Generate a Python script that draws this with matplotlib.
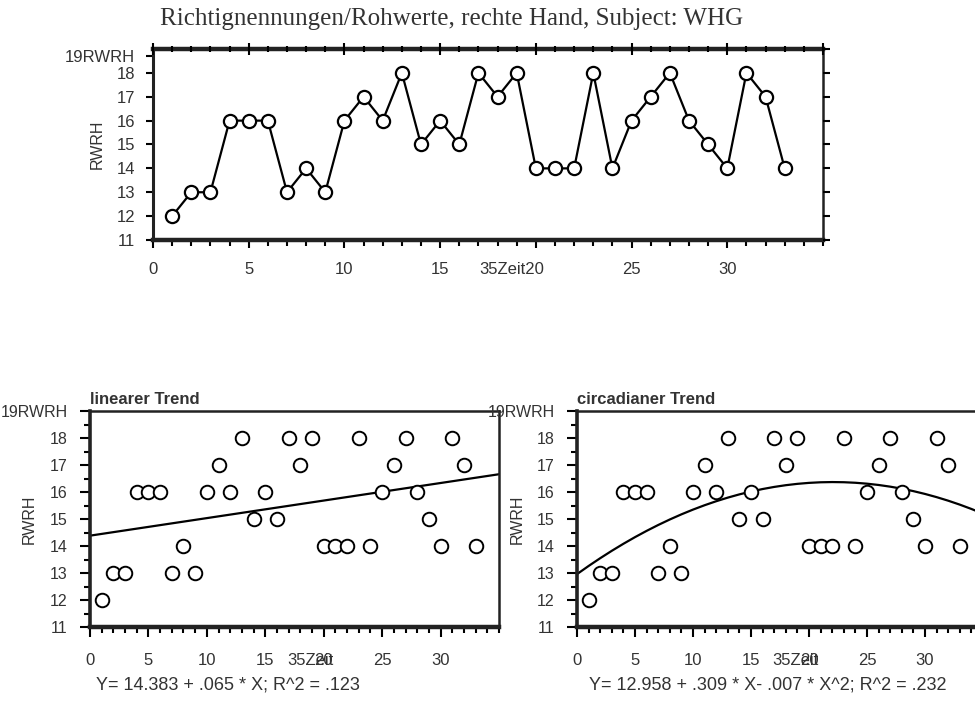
import matplotlib
matplotlib.use('Agg')
from matplotlib import pyplot as plt
from matplotlib.ticker import MultipleLocator
import numpy as np

# Daten (Zeitpunkte und Richtignennungen rechte Hand)
zeit = list(range(1, 34))
rwrh = [12, 13, 13, 16, 16, 16, 13, 14, 13, 16, 17, 16, 18, 15, 16, 15, 18,
        17, 18, 14, 14, 14, 18, 14, 16, 17, 18, 16, 15, 14, 18, 17, 14]

x_ticks = [0, 5, 10, 15, 20, 25, 30]
x_labels_oben = ['0', '5', '10', '15', '', '25', '30']
x_labels_unten = ['0', '5', '10', '15', '20', '25', '30']
y_ticks = [11, 12, 13, 14, 15, 16, 17, 18]
y_labels = ['11', '12', '13', '14', '15', '16', '17', '18']

# Regressionskoeffizienten (aus der Grafik)
lin_coef = [14.383, 0.065]
quad_coef = [12.958, 0.309, -0.007]
fit_x = np.arange(0, 36)

titel = 'Richtignennungen/Rohwerte, rechte Hand, Subject: WHG'
eq_lin = 'Y= 14.383 + .065 * X; R^2 = .123'
eq_quad = 'Y= 12.958 + .309 * X- .007 * X^2; R^2 = .232'

plt.rcParams['font.family'] = ['Liberation Sans', 'DejaVu Sans']
TXT = '#333333'

fig = plt.figure(figsize=(9.75, 7.22), dpi=100)

W, H = 975.0, 722.0


def box(l, r, t, b):
    return [l / W, 1 - b / H, (r - l) / W, (b - t) / H]


# ---------------- oberes Diagramm ----------------
ax = fig.add_axes(box(153, 823, 49, 240))
ax.plot(zeit, rwrh, color='black', lw=1.6, marker='o', ms=9.5,
        mfc='white', mec='black', mew=1.6, zorder=3)
ax.set_xlim(0, 35)
ax.set_ylim(11, 19)
ax.set_xticks(x_ticks)
ax.set_xticklabels(x_labels_oben)
ax.xaxis.set_minor_locator(MultipleLocator(1))
ax.set_yticks(y_ticks + [18.7])
ax.set_yticklabels(y_labels + ['19RWRH'])
ax.tick_params(axis='x', which='major', direction='out', length=6, width=1.5,
               pad=10, labelsize=12, labelcolor=TXT)
ax.tick_params(axis='x', which='minor', direction='out', length=4, width=1.5)
ax.tick_params(axis='y', direction='out', length=5, width=1.5, pad=8,
               labelsize=12, labelcolor=TXT)
ax.spines['left'].set_linewidth(2.2)
ax.spines['bottom'].set_linewidth(3.2)
ax.spines['top'].set_linewidth(3.2)
ax.spines['right'].set_linewidth(1.8)
for s in ax.spines.values():
    s.set_color('#222222')
ax.set_ylabel('RWRH', fontsize=11.5, color=TXT)
ax.yaxis.set_label_coords(-0.072, 0.5)
ax.annotate('35Zeit20', xy=(20, 0), xycoords=('data', 'axes fraction'),
            xytext=(6, -16), textcoords='offset points', ha='right', va='top',
            fontsize=12, color=TXT)

axt = ax.twiny()
axt.set_xlim(0, 35)
axt.xaxis.set_major_locator(MultipleLocator(5))
axt.xaxis.set_minor_locator(MultipleLocator(1))
axt.tick_params(axis='x', which='major', direction='inout', length=9, width=1.5,
                labeltop=False)
axt.tick_params(axis='x', which='minor', direction='inout', length=5, width=1.5)
axr = ax.twinx()
axr.set_ylim(11, 19)
axr.set_yticks(y_ticks + [19])
axr.tick_params(axis='y', direction='out', length=5, width=1.5, labelright=False)
for a in (axt, axr):
    a.spines[:].set_visible(False)

fig.text(452 / W, 1 - 19 / H, titel, ha='center', va='center',
         fontsize=18, family='Liberation Serif', color=TXT)


# ---------------- untere Diagramme ----------------
def unteres_panel(l, r, titel_panel, gleichung, y_fit, eq_x, lbl_x):
    a = fig.add_axes(box(l, r, 411, 627))
    a.scatter(zeit, rwrh, s=95, facecolors='white', edgecolors='black',
              linewidths=1.4, zorder=3)
    a.plot(fit_x, y_fit, color='black', lw=1.6, zorder=2)
    a.set_xlim(0, 35)
    a.set_ylim(11, 19)
    a.set_xticks(x_ticks)
    a.set_xticklabels(x_labels_unten)
    a.xaxis.set_minor_locator(MultipleLocator(1))
    a.set_yticks(y_ticks + [19])
    a.set_yticklabels(y_labels + ['19RWRH'])
    a.yaxis.set_minor_locator(MultipleLocator(0.5))
    a.tick_params(axis='x', which='major', direction='out', length=7, width=1.5,
                  pad=12, labelsize=12, labelcolor=TXT)
    a.tick_params(axis='x', which='minor', direction='out', length=4, width=1.5)
    a.tick_params(axis='y', which='major', direction='out', length=7, width=1.5,
                  pad=9, labelsize=11.5, labelcolor=TXT)
    a.tick_params(axis='y', which='minor', direction='out', length=4, width=1.5)
    a.spines['left'].set_linewidth(2.6)
    a.spines['bottom'].set_linewidth(3.2)
    a.spines['top'].set_linewidth(1.8)
    a.spines['right'].set_linewidth(1.8)
    for s in a.spines.values():
        s.set_color('#222222')
    a.set_ylabel('RWRH', fontsize=11.5, color=TXT)
    a.yaxis.set_label_coords(lbl_x, 0.5)
    a.set_title(titel_panel, loc='left', fontsize=12, fontweight='bold',
                color=TXT, pad=5)
    a.annotate('35Zeit', xy=(20, 0), xycoords=('data', 'axes fraction'),
               xytext=(7, -19), textcoords='offset points', ha='right', va='top',
               fontsize=12, color=TXT)
    fig.text(eq_x / W, 1 - 685 / H, gleichung, ha='center', va='center',
             fontsize=13, color=TXT)
    return a


y_lin = lin_coef[0] + lin_coef[1] * fit_x
y_quad = quad_coef[0] + quad_coef[1] * fit_x + quad_coef[2] * fit_x ** 2

unteres_panel(90, 499, 'linearer Trend', eq_lin, y_lin, 228, -0.13)
unteres_panel(577, 983, 'circadianer Trend', eq_quad, y_quad, 768, -0.128)

plt.savefig('out.png', dpi=100)
